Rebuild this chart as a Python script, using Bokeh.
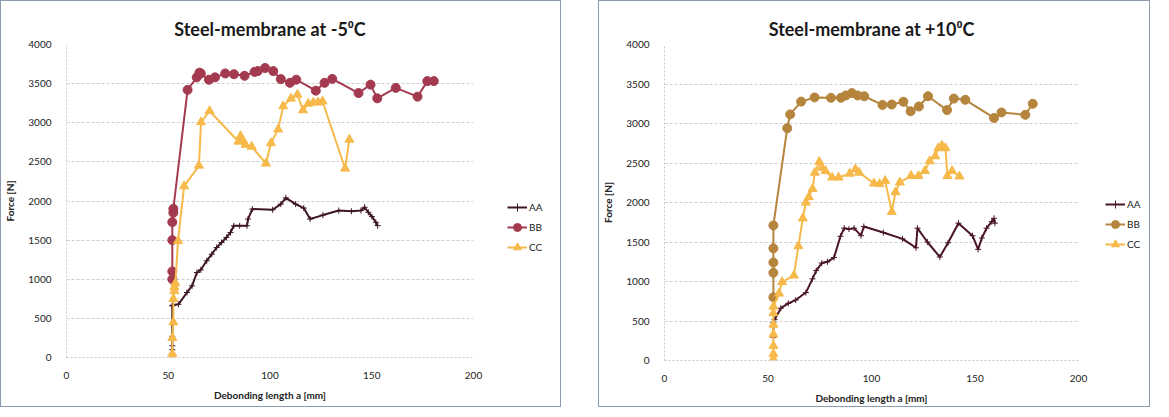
from bokeh.plotting import figure
from bokeh.models import Legend, LegendItem, Spacer, FixedTicker, ColumnDataSource
from bokeh.layouts import row
from bokeh.embed import file_html
from bokeh.resources import INLINE

# ---------------- data: Steel-membrane at -5 C ----------------
l_aa_x = [52, 52, 52, 52, 52, 55, 59.2, 61.7, 64.1, 66, 68.9, 71.4, 73.8, 76.2, 78.6, 80.6, 82.2,
          85.1, 88.7, 89.2, 91.3, 101.3, 105.3, 107.8, 112.6, 116.6, 119.7, 126, 133.8, 140,
          144.7, 146.5, 148.3, 150.1, 152, 152.9]
l_aa_y = [100, 150, 270, 660, 668, 680, 831, 916, 1086, 1121, 1236, 1320, 1406, 1470, 1534, 1598, 1683,
          1683, 1683, 1769, 1897, 1888, 1960, 2040, 1960, 1910, 1770, 1820, 1878, 1869,
          1878, 1920, 1856, 1800, 1728, 1685]

l_bb_x = [52, 52, 52, 52, 52.5, 52.5, 59.5, 64, 65.3, 66, 70, 73, 78, 82.3, 87.5, 92.4, 94, 97.6,
          101.6, 105.3, 109.8, 112.9, 122.5, 126.8, 130.6, 143.5, 149.4, 152.7, 161.8, 172.5,
          177.3, 180.5]
l_bb_y = [1000, 1100, 1500, 1730, 1850, 1900, 3420, 3580, 3640, 3630, 3550, 3580, 3630, 3620, 3600, 3650,
          3660, 3700, 3660, 3558, 3510, 3550, 3410, 3510, 3560, 3380, 3487, 3312, 3445, 3333,
          3532, 3532]

l_cc_x = [52, 52, 52, 52.5, 52.5, 53, 53, 53.5, 54.8, 57.8, 65.1, 66.1, 70.3, 84.5, 85.5, 86.5, 88,
          91, 98, 100.5, 104, 106.5, 110.3, 113.5, 116.2, 118.8, 121.3, 123.6, 125.8, 136.9, 139]
l_cc_y = [0, 50, 250, 450, 750, 850, 900, 950, 1490, 2190, 2453, 3008, 3150, 2760, 2830, 2780, 2720,
          2695, 2480, 2740, 2915, 3212, 3310, 3360, 3160, 3245, 3260, 3260, 3275, 2415, 2785]

# ---------------- data: Steel-membrane at +10 C ----------------
r_aa_x = [52.6, 52.6, 52.6, 53.2, 56.2, 59.8, 63.4, 68.3, 71.5, 73.3, 76, 78.7, 81.9, 85, 86.8,
          89.1, 91.6, 94.9, 96.3, 105.7, 115, 121.5, 122.2, 127, 133, 137, 142, 148.8, 151.5,
          153.3, 155.6, 158.1, 159.2, 159.6]
r_aa_y = [290, 331, 480, 517, 662, 724, 765, 860, 1034, 1138, 1233, 1249, 1303, 1572, 1675,
          1663, 1675, 1580, 1696, 1620, 1540, 1427, 1675, 1500, 1310, 1490, 1738, 1580, 1407,
          1551, 1675, 1758, 1800, 1738]

r_bb_x = [52.6, 52.6, 52.6, 52.6, 52.6, 59.3, 60.7, 66, 72.5, 80.4, 85.2, 87.6, 90.5, 93.3, 96.5,
          105.3, 109.8, 115.4, 118.9, 122.9, 127.3, 136.5, 139.8, 145.3, 159.2, 162.8, 174.3, 177.9]
r_bb_y = [800, 1110, 1240, 1420, 1710, 2940, 3115, 3277, 3330, 3325, 3325, 3355, 3385, 3355, 3345,
          3235, 3240, 3275, 3155, 3215, 3345, 3170, 3315, 3300, 3070, 3140, 3110, 3250]

r_cc_x = [52.6, 52.6, 52.6, 52.6, 52.6, 52.6, 52.6, 55.3, 56.8, 62.5, 64.7, 66.8, 68.3, 69.7, 71.5,
          72.6, 74.8, 76, 77.8, 81, 84.1, 89.5, 92.2, 94, 101.2, 103.9, 106.6, 109.8, 111.6, 113.7,
          119.1, 122.7, 125.8, 128.1, 130.8, 132.3, 134, 135.7, 136.7, 138.9, 142.5]
r_cc_y = [20, 83, 186, 331, 455, 600, 683, 848, 993, 1076, 1448, 1800, 2000, 2069, 2172,
          2379, 2515, 2441, 2399, 2317, 2317, 2366, 2420, 2379, 2242, 2234, 2275, 1882, 2131, 2255,
          2337, 2337, 2400, 2524, 2586, 2689, 2720, 2689, 2337, 2400, 2330]

series_names = ["AA", "BB", "CC"]
x_ticks = [0, 50, 100, 150, 200]
y_ticks = [0, 500, 1000, 1500, 2000, 2500, 3000, 3500, 4000]

FONT = "Lato"
H = 405


def add_series(p, aa, bb, cc, colors):
    c_aa, c_bb, c_cc = colors
    out = []
    for (xs, ys), c, marker, size in ((aa, c_aa, "cross", 6), (bb, c_bb, "circle", 9),
                                      (cc, c_cc, "triangle", 9)):
        src = ColumnDataSource(dict(x=xs, y=ys))
        rl = p.line("x", "y", source=src, line_color=c, line_width=2)
        rm = p.scatter("x", "y", source=src, marker=marker, size=size, fill_color=c,
                       line_color=c, line_width=1)
        out.append([rl, rm])
    return out


def make_panel(title, aa, bb, cc, colors, main_w, leg_w, borders, legend_loc):
    left, right, top, bottom = borders
    p = figure(width=main_w, height=H, output_backend="svg", toolbar_location=None,
               x_range=(0, 200), y_range=(0, 4000),
               min_border_left=left, min_border_right=right,
               min_border_top=top, min_border_bottom=bottom,
               title=title)
    p.title.align = "center"
    p.title.text_font = FONT
    p.title.text_font_size = "18px"
    p.title.text_font_style = "bold"
    p.title.text_color = "#1a1a1a"
    p.outline_line_color = None

    p.xgrid.grid_line_color = None
    p.ygrid.grid_line_color = "#cfcfcf"
    p.ygrid.grid_line_dash = "3 2"
    p.ygrid.ticker = FixedTicker(ticks=y_ticks)

    p.xaxis.ticker = FixedTicker(ticks=x_ticks)
    p.yaxis.ticker = FixedTicker(ticks=y_ticks)
    for ax in (p.xaxis[0], p.yaxis[0]):
        ax.axis_line_color = "#c8c8c8"
        ax.axis_line_dash = "2 2"
        ax.major_tick_line_color = None
        ax.minor_tick_line_color = None
        ax.major_label_text_font = FONT
        ax.major_label_text_font_size = "10px"
        ax.major_label_text_color = "#222222"
        ax.axis_label_text_font = FONT
        ax.axis_label_text_font_size = "10px"
        ax.axis_label_text_font_style = "bold"
        ax.axis_label_text_color = "#222222"
    p.xaxis.axis_label = "Debonding length a [mm]"
    p.yaxis.axis_label = "Force [N]"
    p.xaxis.major_label_standoff = 8
    p.yaxis.major_label_standoff = 9
    p.xaxis.axis_label_standoff = 7
    p.yaxis.axis_label_standoff = 9

    add_series(p, aa, bb, cc, colors)

    # legend lives in a narrow companion figure to the right of the plot;
    # its renderers hold the same data but lie outside that figure's range
    lg = figure(width=leg_w, height=H, output_backend="svg", toolbar_location=None,
                x_range=(-10, -9), y_range=(-10, -9), min_border=0,
                x_axis_location=None, y_axis_location=None)
    lg.grid.visible = False
    lg.outline_line_color = None
    rends = add_series(lg, aa, bb, cc, colors)
    legend = Legend(items=[LegendItem(label=n, renderers=r) for n, r in zip(series_names, rends)],
                    location=legend_loc)
    legend.border_line_color = None
    legend.background_fill_alpha = 0
    legend.padding = 2
    legend.margin = 0
    legend.spacing = 0
    legend.label_height = 20
    legend.glyph_height = 20
    legend.glyph_width = 20
    legend.label_standoff = 2
    legend.label_text_font = FONT
    legend.label_text_font_size = "10px"
    legend.label_text_color = "#222222"
    lg.add_layout(legend, "center")

    return row(p, lg, styles={"border": "1px solid #8c9bb0", "background-color": "white"})


left = make_panel("Steel-membrane at -5\u2070C", (l_aa_x, l_aa_y), (l_bb_x, l_bb_y), (l_cc_x, l_cc_y),
                  ("#3e1526", "#a33a50", "#f6b94a"), 482, 77, (60, 10, 43, 49), (24, 100))
right = make_panel("Steel-membrane at +10\u2070C", (r_aa_x, r_aa_y), (r_bb_x, r_bb_y), (r_cc_x, r_cc_y),
                   ("#4a1529", "#b5853d", "#f6b94a"), 489, 61, (63, 10, 43, 41), (17, 106))

layout = row(left, Spacer(width=37, height=407), right)
open("out.html", "w").write(file_html(layout, INLINE))
